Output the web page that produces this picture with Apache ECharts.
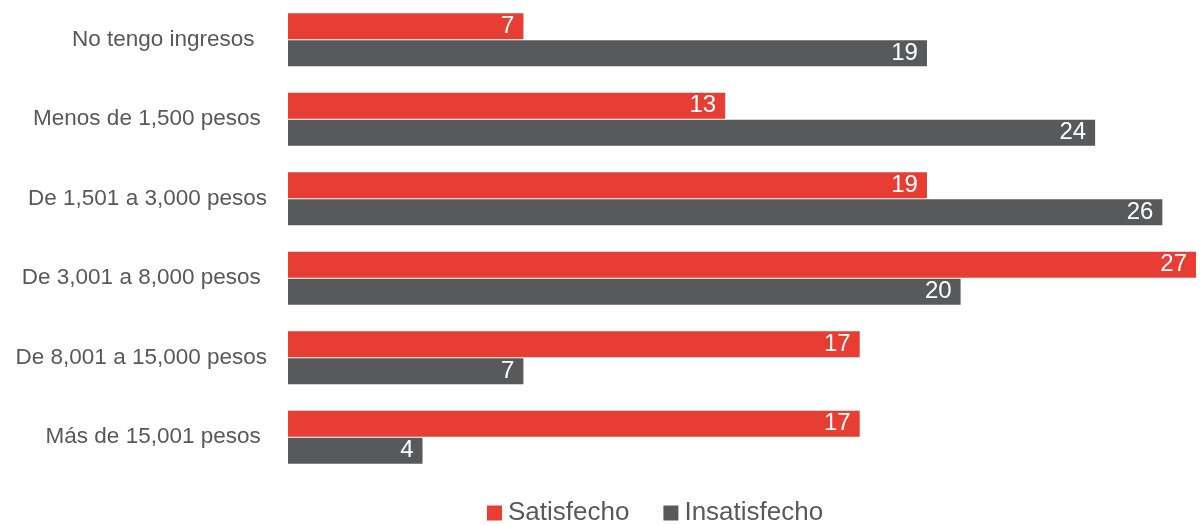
<!DOCTYPE html>
<html><head><meta charset="utf-8">
<script src="https://cdn.jsdelivr.net/npm/echarts@6/dist/echarts.min.js"></script>
<style>html,body{margin:0;padding:0;background:#fff}#c{width:1201px;height:525px}</style>
</head><body><div id="c"></div>
<script>
const categories = ["No tengo ingresos  ", "Menos de 1,500 pesos ", "De 1,501 a 3,000 pesos", "De 3,001 a 8,000 pesos ", "De 8,001 a 15,000 pesos", "Más de 15,001 pesos "];
const satisfecho = [7, 13, 19, 27, 17, 17];
const insatisfecho = [19, 24, 26, 20, 7, 4];
const seriesNames = ["Satisfecho", "Insatisfecho"];
const FONT = '"Liberation Sans", Arial, sans-serif';
const chart = echarts.init(document.getElementById('c'), null, {renderer: 'canvas'});
const lbl = {show: true, position: 'insideRight', distance: 9, color: '#fff', fontSize: 24, fontFamily: FONT};
chart.setOption({
  animation: false,
  grid: {left: 288, right: 5, top: 0, height: 477, containLabel: false},
  xAxis: {type: 'value', min: 0, max: 27, show: false},
  yAxis: {type: 'category', data: categories, inverse: true,
    axisLine: {show: false}, axisTick: {show: false},
    axisLabel: {color: '#595959', fontSize: 22.5, fontFamily: FONT, margin: 21}},
  legend: {left: 487, top: 500, padding: 0, itemWidth: 15, itemHeight: 15, itemGap: 34,
    icon: 'rect', textStyle: {color: '#595959', fontSize: 26, fontFamily: FONT, padding: [0, 0, 0, 1]},
    data: seriesNames},
  series: [
    {name: seriesNames[0], type: 'bar', data: satisfecho, barWidth: 26, barGap: '4%',
      itemStyle: {color: '#E83D33'}, label: lbl},
    {name: seriesNames[1], type: 'bar', data: insatisfecho, barWidth: 26,
      itemStyle: {color: '#58595B'}, label: lbl}
  ]
});
</script></body></html>
